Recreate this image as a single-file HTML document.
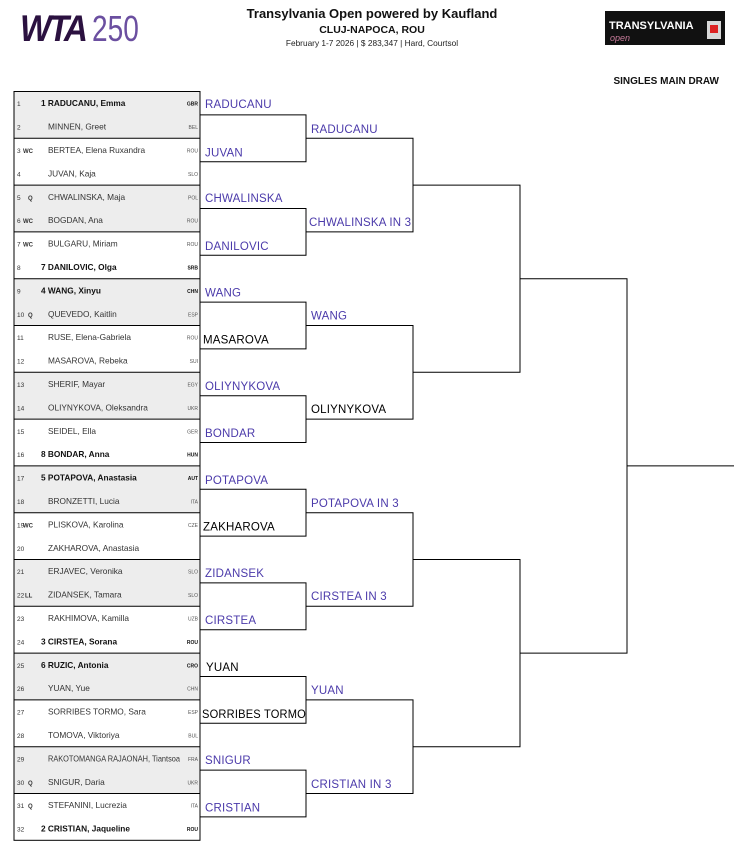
<!DOCTYPE html>
<html><head><meta charset="utf-8"><style>
html,body{margin:0;padding:0;background:#fff;}
svg{display:block;font-family:"Liberation Sans",Arial,sans-serif;}
.n{font-size:6.5px;fill:#333}
.t{font-size:6px;font-weight:bold;fill:#333}
.p{font-size:8.3px;fill:#333}
.b{font-weight:bold;fill:#111}
.c{font-size:5px;fill:#555;text-anchor:end}
.cb{font-weight:bold;fill:#111}
.w{font-size:11.5px;fill:#4b3aaa;letter-spacing:0.2px}
.k{fill:#000}
</style></head><body>
<svg width="754" height="845" viewBox="0 0 754 845" xmlns="http://www.w3.org/2000/svg">
<!-- header -->
<text x="20" y="41" font-size="37" font-weight="bold" font-style="italic" fill="#2b1140" transform="translate(20 0) scale(0.9 1) translate(-20 0)" letter-spacing="-3">WTA</text>
<text x="92" y="41" font-size="36" fill="#6b4fa0" transform="translate(92 0) scale(0.78 1) translate(-92 0)">250</text>
<text x="372" y="18" font-size="13" font-weight="bold" text-anchor="middle" fill="#111">Transylvania Open powered by Kaufland</text>
<text x="372" y="33" font-size="10.5" font-weight="bold" text-anchor="middle" fill="#111">CLUJ-NAPOCA, ROU</text>
<text x="372" y="46" font-size="8.3" text-anchor="middle" fill="#222">February 1-7 2026  |  $ 283,347  |  Hard, Courtsol</text>
<rect x="605" y="11" width="120" height="34" fill="#111"/>
<text x="609" y="29" font-size="11" font-weight="bold" fill="#fff">TRANSYLVANIA</text>
<text x="610" y="41" font-size="9" font-style="italic" fill="#c77b9a">open</text>
<rect x="707" y="21" width="14" height="18" fill="#d8d8d8"/><rect x="710" y="25" width="8" height="8" fill="#d22"/>
<text x="719" y="84" font-size="10" font-weight="bold" text-anchor="end" fill="#111">SINGLES MAIN DRAW</text>

<!-- shading -->
<g fill="#ededed">
<rect x="14" y="91.5" width="186" height="46.8"/>
<rect x="14" y="185.1" width="186" height="46.8"/>
<rect x="14" y="278.7" width="186" height="46.8"/>
<rect x="14" y="372.3" width="186" height="46.8"/>
<rect x="14" y="465.9" width="186" height="46.8"/>
<rect x="14" y="559.5" width="186" height="46.8"/>
<rect x="14" y="653.1" width="186" height="46.8"/>
<rect x="14" y="746.7" width="186" height="46.8"/>
</g>
<g stroke="#000" stroke-width="1" fill="none">
<rect x="14" y="91.5" width="186" height="748.8"/>
<path d="M14 138.3H200M14 185.1H200M14 231.9H200M14 278.7H200M14 325.5H200M14 372.3H200M14 419.1H200M14 465.9H200M14 512.7H200M14 559.5H200M14 606.3H200M14 653.1H200M14 699.9H200M14 746.7H200M14 793.5H200"/>
<!-- R1 brackets -->
<path d="M200 114.9H306V161.7H200"/>
<path d="M200 208.5H306V255.3H200"/>
<path d="M200 302.1H306V348.9H200"/>
<path d="M200 395.7H306V442.5H200"/>
<path d="M200 489.3H306V536.1H200"/>
<path d="M200 582.9H306V629.7H200"/>
<path d="M200 676.5H306V723.3H200"/>
<path d="M200 770.1H306V816.9H200"/>
<!-- R2 -->
<path d="M306 138.3H413V231.9H306"/>
<path d="M306 325.5H413V419.1H306"/>
<path d="M306 512.7H413V606.3H306"/>
<path d="M306 699.9H413V793.5H306"/>
<!-- QF -->
<path d="M413 185.1H520V372.3H413"/>
<path d="M413 559.5H520V746.7H413"/>
<!-- SF -->
<path d="M520 278.7H627V653.1H520"/>
<path d="M627 465.9H734"/>
</g>

<!-- rows -->
<g class="n">
<text x="17" y="106">1</text><text x="17" y="129.5">2</text><text x="17" y="153">3</text><text x="17" y="176.5">4</text><text x="17" y="200">5</text><text x="17" y="223">6</text><text x="17" y="246.5">7</text><text x="17" y="270">8</text><text x="17" y="293.5">9</text><text x="17" y="317">10</text><text x="17" y="340">11</text><text x="17" y="363.5">12</text><text x="17" y="387">13</text><text x="17" y="410.5">14</text><text x="17" y="434">15</text><text x="17" y="457">16</text><text x="17" y="480.5">17</text><text x="17" y="504">18</text><text x="17" y="527.5">19</text><text x="17" y="551">20</text><text x="17" y="574">21</text><text x="17" y="597.5">22</text><text x="17" y="621">23</text><text x="17" y="644.5">24</text><text x="17" y="668">25</text><text x="17" y="691">26</text><text x="17" y="714.5">27</text><text x="17" y="738">28</text><text x="17" y="761.5">29</text><text x="17" y="785">30</text><text x="17" y="808">31</text><text x="17" y="831.5">32</text>
</g>
<g class="t">
<text x="23" y="153">WC</text><text x="28" y="200">Q</text><text x="23" y="223">WC</text><text x="23" y="246.5">WC</text><text x="28" y="317">Q</text><text x="23" y="527.5">WC</text><text x="25" y="597.5">LL</text><text x="28" y="785">Q</text><text x="28" y="808">Q</text>
</g>
<g class="p">
<text x="41" y="106" class="b">1 RADUCANU, Emma</text>
<text x="48" y="129.5">MINNEN, Greet</text>
<text x="48" y="153">BERTEA, Elena Ruxandra</text>
<text x="48" y="176.5">JUVAN, Kaja</text>
<text x="48" y="200">CHWALINSKA, Maja</text>
<text x="48" y="223">BOGDAN, Ana</text>
<text x="48" y="246.5">BULGARU, Miriam</text>
<text x="41" y="270" class="b">7 DANILOVIC, Olga</text>
<text x="41" y="293.5" class="b">4 WANG, Xinyu</text>
<text x="48" y="317">QUEVEDO, Kaitlin</text>
<text x="48" y="340">RUSE, Elena-Gabriela</text>
<text x="48" y="363.5">MASAROVA, Rebeka</text>
<text x="48" y="387">SHERIF, Mayar</text>
<text x="48" y="410.5">OLIYNYKOVA, Oleksandra</text>
<text x="48" y="434">SEIDEL, Ella</text>
<text x="41" y="457" class="b">8 BONDAR, Anna</text>
<text x="41" y="480.5" class="b">5 POTAPOVA, Anastasia</text>
<text x="48" y="504">BRONZETTI, Lucia</text>
<text x="48" y="527.5">PLISKOVA, Karolina</text>
<text x="48" y="551">ZAKHAROVA, Anastasia</text>
<text x="48" y="574">ERJAVEC, Veronika</text>
<text x="48" y="597.5">ZIDANSEK, Tamara</text>
<text x="48" y="621">RAKHIMOVA, Kamilla</text>
<text x="41" y="644.5" class="b">3 CIRSTEA, Sorana</text>
<text x="41" y="668" class="b">6 RUZIC, Antonia</text>
<text x="48" y="691">YUAN, Yue</text>
<text x="48" y="714.5">SORRIBES TORMO, Sara</text>
<text x="48" y="738">TOMOVA, Viktoriya</text>
<text x="48" y="761.5" textLength="132" lengthAdjust="spacingAndGlyphs">RAKOTOMANGA RAJAONAH, Tiantsoa</text>
<text x="48" y="785">SNIGUR, Daria</text>
<text x="48" y="808">STEFANINI, Lucrezia</text>
<text x="41" y="831.5" class="b">2 CRISTIAN, Jaqueline</text>
</g>
<g class="c">
<text x="198" y="105.5" class="cb">GBR</text><text x="198" y="129">BEL</text><text x="198" y="152.5">ROU</text><text x="198" y="176">SLO</text><text x="198" y="199.5">POL</text><text x="198" y="222.5">ROU</text><text x="198" y="246">ROU</text><text x="198" y="269.5" class="cb">SRB</text><text x="198" y="293" class="cb">CHN</text><text x="198" y="316.5">ESP</text><text x="198" y="339.5">ROU</text><text x="198" y="363">SUI</text><text x="198" y="386.5">EGY</text><text x="198" y="410">UKR</text><text x="198" y="433.5">GER</text><text x="198" y="456.5" class="cb">HUN</text><text x="198" y="480" class="cb">AUT</text><text x="198" y="503.5">ITA</text><text x="198" y="527">CZE</text><text x="198" y="573.5">SLO</text><text x="198" y="597">SLO</text><text x="198" y="620.5">UZB</text><text x="198" y="644" class="cb">ROU</text><text x="198" y="667.5" class="cb">CRO</text><text x="198" y="690.5">CHN</text><text x="198" y="714">ESP</text><text x="198" y="737.5">BUL</text><text x="198" y="761">FRA</text><text x="198" y="784.5">UKR</text><text x="198" y="807.5">ITA</text><text x="198" y="831" class="cb">ROU</text>
</g>

<!-- R1 winners -->
<g class="w">
<text x="205" y="108">RADUCANU</text>
<text x="205" y="156.5">JUVAN</text>
<text x="205" y="202">CHWALINSKA</text>
<text x="205" y="250">DANILOVIC</text>
<text x="205" y="296.5">WANG</text>
<text x="203" y="343.5" class="k">MASAROVA</text>
<text x="205" y="390">OLIYNYKOVA</text>
<text x="205" y="437">BONDAR</text>
<text x="205" y="484">POTAPOVA</text>
<text x="203" y="530.5" class="k">ZAKHAROVA</text>
<text x="205" y="577">ZIDANSEK</text>
<text x="205" y="624">CIRSTEA</text>
<text x="206" y="671" class="k">YUAN</text>
<text x="202" y="718" class="k" textLength="104" lengthAdjust="spacingAndGlyphs">SORRIBES TORMO</text>
<text x="205" y="764">SNIGUR</text>
<text x="205" y="811.5">CRISTIAN</text>
</g>
<!-- R2 winners -->
<g class="w">
<text x="311" y="133">RADUCANU</text>
<text x="309" y="226">CHWALINSKA IN 3</text>
<text x="311" y="319.5">WANG</text>
<text x="311" y="413" class="k">OLIYNYKOVA</text>
<text x="311" y="507">POTAPOVA IN 3</text>
<text x="311" y="600">CIRSTEA IN 3</text>
<text x="311" y="694">YUAN</text>
<text x="311" y="788">CRISTIAN IN 3</text>
</g>
</svg>
</body></html>
